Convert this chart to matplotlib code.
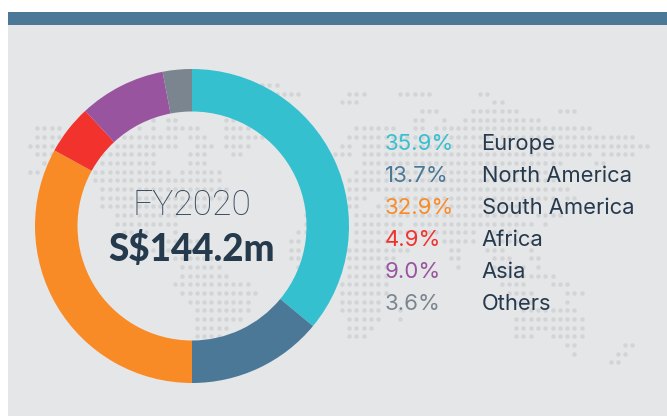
import matplotlib
matplotlib.use('Agg')
import matplotlib.pyplot as plt
from matplotlib.patches import Rectangle

W, H = 667, 416

regions = ['Europe', 'North America', 'South America', 'Africa', 'Asia', 'Others']
percent_labels = ['35.9%', '13.7%', '32.9%', '4.9%', '9.0%', '3.6%']
ring_shares = [36.0, 14.0, 33.0, 5.1, 8.9, 3.0]
colors = ['#35c0cf', '#4a7896', '#f98b27', '#f1322d', '#99549f', '#7b8590']
title = 'FY2020'
total = 'S$144.2m'

# background dot map: row -> (first column, last column) spans
map_rows = {
    0: [(35, 37)],
    1: [(37, 40), (47, 49), (54, 58), (65, 66)],
    2: [(46, 48), (67, 68)],
    3: [(57, 59), (64, 70), (76, 78)],
    4: [(20, 20), (22, 23), (30, 31), (56, 57), (60, 60), (63, 73)],
    5: [(4, 7), (18, 18), (20, 20), (22, 26), (30, 33), (48, 53), (56, 57), (59, 80)],
    6: [(4, 7), (16, 23), (25, 27), (30, 35), (47, 86)],
    7: [(3, 7), (15, 23), (26, 28), (30, 33), (46, 47), (49, 88)],
    8: [(4, 6), (13, 20), (25, 27), (31, 32), (45, 47), (49, 80), (82, 86)],
    9: [(5, 5), (13, 20), (25, 27), (49, 76), (81, 82)],
    10: [(3, 4), (12, 22), (24, 29), (48, 74)],
    11: [(12, 29), (47, 75)],
    12: [(13, 30), (47, 77)],
    13: [(13, 30), (47, 49), (52, 75), (77, 78)],
    14: [(13, 27), (47, 48), (51, 72)],
    15: [(15, 23), (41, 41), (48, 70), (73, 76)],
    16: [(15, 23), (41, 41), (48, 54), (56, 72), (74, 74)],
    17: [(16, 19), (23, 23), (40, 41), (48, 64), (67, 70)],
    18: [(22, 23), (25, 26), (39, 40), (48, 52), (60, 64), (67, 70), (72, 72)],
    19: [(20, 20), (22, 22), (25, 25), (39, 40), (47, 55), (61, 62), (66, 68), (72, 72)],
    20: [(23, 29), (39, 40), (47, 53), (61, 62), (67, 69), (72, 73)],
    21: [(24, 29), (40, 40), (47, 52), (62, 62), (67, 71), (73, 73)],
    22: [(24, 30), (47, 52), (68, 75)],
    23: [(23, 33), (46, 52), (68, 71), (75, 77)],
    24: [(24, 34), (46, 52), (69, 72), (77, 79)],
    25: [(25, 33), (46, 51), (70, 72), (77, 77)],
    26: [(26, 33), (46, 51), (54, 54), (71, 78)],
    27: [(26, 32), (47, 51), (54, 54), (70, 79)],
    28: [(26, 30), (47, 50), (70, 79)],
    29: [(26, 29), (47, 49), (70, 72), (75, 79)],
    30: [(77, 78), (85, 86)],
    31: [(78, 78), (84, 85)],
    32: [(83, 84)],
}

fig = plt.figure(figsize=(W / 100, H / 100), dpi=100, facecolor='white')
ax = fig.add_axes([0, 0, 1, 1])


def py(y):
    # picture rows count from the top
    return H - y


# panel and top bar
ax.add_patch(Rectangle((8, 0), W - 8, py(25), color='#e5e6e8', lw=0, zorder=0))
ax.add_patch(Rectangle((8, py(25)), W - 8, 13, color='#4a7896', lw=0, zorder=1))

# dot map, under the ring
xs, ys = [], []
for row, spans in map_rows.items():
    for first, last in spans:
        for col in range(first, last + 1):
            xs.append(8 + 7.26 * col)
            ys.append(py(85 + 8.67 * row))
ax.scatter(xs, ys, s=10.5, color='#d3d4d6', linewidths=0, zorder=0.5)

# ring
ax.pie(ring_shares, colors=colors, startangle=90, counterclock=False,
       radius=157, center=(192, py(226)),
       wedgeprops={'width': 42.5, 'linewidth': 0})
ax.set_xlim(0, W)
ax.set_ylim(0, H)
ax.set_aspect('auto')
ax.axis('off')

dark = '#263a4e'
ax.text(192, py(205.5), title, ha='center', va='center', fontsize=25.5,
        family='Roboto', weight='light', color='#34485b')
ax.text(192, py(249), total, ha='center', va='center', fontsize=26.5,
        family='Lato', weight='black', color=dark)

# legend rows
for i, (label, name, color) in enumerate(zip(percent_labels, regions, colors)):
    y = py(144 + 32 * i)
    ax.text(385, y, label, ha='left', va='center', fontsize=16,
            family='Inter', color=color)
    ax.text(481.5, y, name, ha='left', va='center', fontsize=15.8,
            family='Inter', color=dark)

fig.savefig('out.png', dpi=100, facecolor='white')
